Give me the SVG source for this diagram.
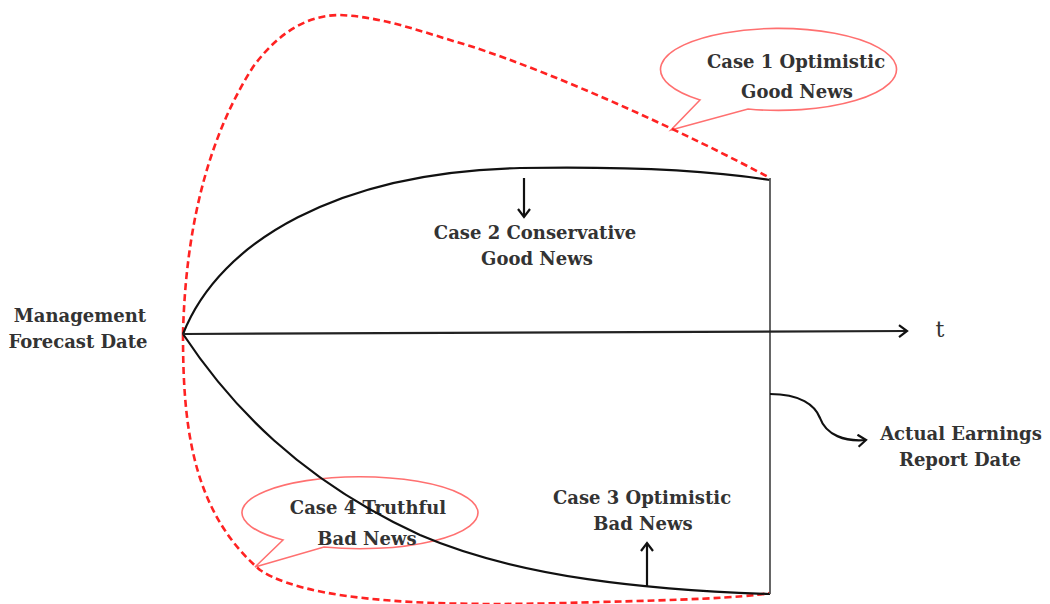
<svg xmlns="http://www.w3.org/2000/svg" width="1050" height="604" viewBox="0 0 1050 604">
<style>
.t{font-family:"DejaVu Serif","Liberation Serif",serif;font-weight:bold;font-size:18px;fill:#333;text-anchor:middle}
.bub{fill:#fff;stroke:#ff7070;stroke-width:1.6}
.blk{fill:none;stroke:#111;stroke-width:2.2}
.red{fill:none;stroke:#ff2222;stroke-width:2.6;stroke-dasharray:7 4}
</style>
<defs>
<marker id="ah" markerWidth="14" markerHeight="14" refX="10" refY="7" orient="auto" markerUnits="userSpaceOnUse">
<polyline points="2,1 10,7 2,13" fill="none" stroke="#111" stroke-width="2.2"/>
</marker>
</defs>
<rect width="1050" height="604" fill="#fff"/>
<g id="case1">
<path class="bub" d="M700,100 A118,41 0 1 1 748,109 L671,130 Z"/>
<text class="t" x="796" y="68">Case 1 Optimistic</text>
<text class="t" x="797" y="98">Good News</text>
</g>
<g id="case4">
<path class="bub" d="M283,540 A118,36 0 1 1 324,547 L255,567 Z"/>
<text class="t" x="368" y="514">Case 4 Truthful</text>
<text class="t" x="367" y="545">Bad News</text>
</g>
<g id="connectors">
<path class="red" d="M183,334 C185,250 200,150 253,67 C280,30 310,15 340,15 C385,17 425,33 470,46 C560,75 690,135 770,178"/>
<path class="red" d="M183,334 C183,420 190,510 260,570 C320,610 500,605 600,602 C680,600 740,598 770,593"/>
<path class="blk" d="M183,334 C220,240 340,172 520,168 C640,166 720,172 770,180"/>
<path class="blk" d="M183,334 C230,405 300,480 420,535 C520,578 650,590 770,594"/>
<line x1="770" y1="178" x2="770" y2="594" stroke="#555" stroke-width="1.8"/>
<line x1="183" y1="334" x2="907" y2="331" stroke="#222" stroke-width="2.2" marker-end="url(#ah)"/>
<line x1="524" y1="178" x2="524" y2="217" class="blk" marker-end="url(#ah)"/>
<line x1="647" y1="587" x2="647" y2="543" class="blk" marker-end="url(#ah)"/>
<path class="blk" d="M770,394 C800,394 815,405 820,418 C826,435 845,442 866,440" marker-end="url(#ah)"/>
</g>
<g id="case2">
<text class="t" x="535" y="239">Case 2 Conservative</text>
<text class="t" x="537" y="265">Good News</text>
</g>
<g id="case3">
<text class="t" x="642" y="504">Case 3 Optimistic</text>
<text class="t" x="643" y="530">Bad News</text>
</g>
<g id="mfd">
<text class="t" x="80" y="322">Management</text>
<text class="t" x="78" y="348">Forecast Date</text>
</g>
<g id="aerd">
<text class="t" x="961" y="440">Actual Earnings</text>
<text class="t" x="960" y="466">Report Date</text>
</g>
<g id="taxis">
<text class="t" x="940" y="337" style="font-weight:normal;font-size:22px">t</text>
</g>
</svg>
